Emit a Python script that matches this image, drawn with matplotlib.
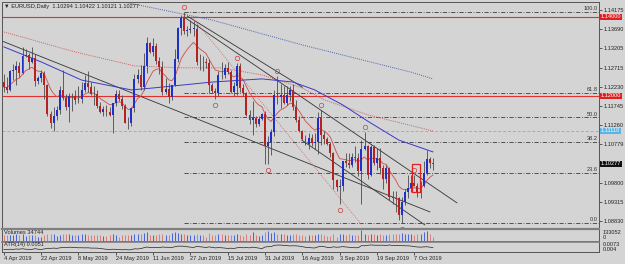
import numpy as np
import pandas as pd
import matplotlib
matplotlib.use("Agg")
import matplotlib.pyplot as plt
import matplotlib.transforms as mtransforms
from matplotlib.patches import Rectangle

# ---------------- data (EURUSD daily) ----------------
opens = [1.1235,1.1222,1.1216,1.1262,1.1265,1.1276,1.1257,1.1300,1.1303,1.1285,1.1296,1.1237,1.1246,1.1258,1.1228,1.1153,1.1131,1.1149,1.1165,
         1.1215,1.1194,1.1171,1.1199,1.1200,1.1190,1.1192,1.1214,1.1233,1.1223,1.1205,1.1204,1.1174,1.1158,1.1166,1.1160,1.1152,1.1181,1.1205,1.1193,1.1174,1.1131,1.1130,
         1.1169,1.1243,1.1252,1.1223,1.1275,1.1333,1.1311,1.1327,1.1288,1.1274,1.1210,1.1218,1.1196,1.1227,1.1293,1.1371,1.1398,1.1365,1.1368,1.1370,
         1.1370,1.1285,1.1287,1.1286,1.1283,1.1227,1.1213,1.1206,1.1253,1.1252,1.1271,1.1260,1.1211,1.1225,1.1276,1.1219,1.1208,1.1151,1.1139,1.1145,1.1128,1.1142,1.1154,
         1.1073,1.1082,1.1108,1.1202,1.1198,1.1201,1.1183,1.1201,1.1215,1.1172,1.1138,1.1111,1.1091,1.1079,1.1094,1.1080,1.1084,1.1143,1.1101,1.1090,1.1077,1.1055,
         1.0986,1.0969,1.0972,1.1034,1.1031,1.1026,1.1044,1.1042,1.1010,1.1065,1.1073,1.1000,1.1070,1.1030,1.1043,1.1016,1.0990,1.1018,1.0943,1.0940,1.0940,
         1.0899,1.0931,1.0957,1.0966,1.0980,1.0972,1.0955,1.0972,1.1004,1.1040,1.10294]
highs = [1.1255,1.1249,1.1266,1.1280,1.1288,1.1286,1.1324,1.1318,1.1308,1.1323,1.1306,1.1250,1.1265,1.1263,1.1230,1.1162,1.1173,1.1175,1.1225,
         1.1265,1.1204,1.1206,1.1207,1.1216,1.1224,1.1234,1.1252,1.1264,1.1236,1.1225,1.1216,1.1184,1.1174,1.1178,1.1172,1.1174,1.1215,1.1214,1.1202,1.1180,1.1147,1.1171,
         1.1255,1.1267,1.1279,1.1309,1.1348,1.1336,1.1347,1.1334,1.1298,1.1289,1.1244,1.1232,1.1228,1.1318,1.1374,1.1405,1.1412,1.1377,1.1393,1.1389,
         1.1381,1.1306,1.1302,1.1296,1.1294,1.1232,1.1220,1.1263,1.1286,1.1280,1.1285,1.1266,1.1236,1.1282,1.1283,1.1229,1.1211,1.1165,1.1188,1.1150,1.1148,1.1157,1.1162,
         1.1098,1.1116,1.1216,1.1250,1.1231,1.1226,1.1225,1.1225,1.1229,1.1189,1.1148,1.1114,1.1100,1.1106,1.1104,1.1107,1.1159,1.1164,1.1111,1.1095,1.1083,1.1058,
         1.0990,1.0989,1.1034,1.1055,1.1054,1.1055,1.1073,1.1054,1.1087,1.1109,1.1075,1.1075,1.1075,1.1068,1.1067,1.1025,1.1025,1.1020,1.0960,1.0959,1.0945,
         1.0943,1.0963,1.0999,1.0999,1.0999,1.0978,1.0985,1.1035,1.1063,1.1046,1.10422]
lows = [1.1211,1.1208,1.1212,1.1241,1.1227,1.1249,1.1255,1.1298,1.1268,1.1282,1.1226,1.1230,1.1235,1.1191,1.1149,1.1118,1.1111,1.1140,1.1153,
        1.1189,1.1163,1.1135,1.1161,1.1179,1.1183,1.1181,1.1209,1.1210,1.1201,1.1177,1.1170,1.1157,1.1150,1.1148,1.1148,1.1107,1.1175,1.1186,1.1167,1.1131,1.1115,1.1124,
        1.1160,1.1232,1.1215,1.1216,1.1258,1.1308,1.1302,1.1281,1.1255,1.1202,1.1204,1.1181,1.1189,1.1225,1.1287,1.1353,1.1357,1.1352,1.1360,1.1352,
        1.1277,1.1265,1.1264,1.1270,1.1207,1.1207,1.1193,1.1200,1.1242,1.1245,1.1256,1.1207,1.1200,1.1201,1.1210,1.1200,1.1150,1.1128,1.1101,1.1120,1.1124,1.1139,1.1028,
        1.1027,1.1050,1.1099,1.1179,1.1169,1.1180,1.1176,1.1187,1.1165,1.1134,1.1108,1.1088,1.1075,1.1065,1.1072,1.1065,1.1052,1.1076,1.1079,1.1075,1.1044,1.0965,
        1.0960,1.0926,1.0960,1.1019,1.1016,1.1019,1.1033,1.0998,1.0927,1.1062,1.0990,1.0996,1.1026,1.1013,1.1003,1.0965,1.0980,1.0936,1.0926,1.0905,1.0885,
        1.0879,1.0924,1.0940,1.0957,1.0971,1.0943,1.0940,1.0970,1.1000,1.1016,1.10121]
closes = [1.1222,1.1215,1.1262,1.1265,1.1275,1.1257,1.1300,1.1304,1.1285,1.1296,1.1237,1.1246,1.1258,1.1228,1.1153,1.1131,1.1149,1.1165,1.1215,
          1.1194,1.1171,1.1199,1.1200,1.1190,1.1192,1.1214,1.1233,1.1223,1.1205,1.1204,1.1174,1.1158,1.1166,1.1160,1.1152,1.1181,1.1205,1.1193,1.1174,1.1131,1.1130,1.1169,
          1.1243,1.1252,1.1223,1.1275,1.1333,1.1311,1.1327,1.1288,1.1274,1.1210,1.1218,1.1196,1.1227,1.1293,1.1371,1.1398,1.1365,1.1368,1.1370,1.1373,
          1.1285,1.1287,1.1286,1.1283,1.1227,1.1213,1.1206,1.1253,1.1252,1.1271,1.1260,1.1211,1.1225,1.1276,1.1219,1.1208,1.1151,1.1139,1.1145,1.1128,1.1142,1.1154,1.1073,
          1.1082,1.1108,1.1202,1.1198,1.1201,1.1183,1.1201,1.1215,1.1172,1.1138,1.1111,1.1091,1.1079,1.1094,1.1080,1.1084,1.1143,1.1101,1.1090,1.1077,1.1055,1.0986,
          1.0969,1.0972,1.1034,1.1031,1.1026,1.1044,1.1042,1.1010,1.1065,1.1073,1.1000,1.1070,1.1030,1.1043,1.1016,1.0990,1.1018,1.0943,1.0940,1.0939,1.0899,
          1.0931,1.0957,1.0966,1.0980,1.0972,1.0955,1.0972,1.1004,1.1040,1.1030,1.10277]
volumes = [62,60,58,61,70,64,72,55,60,66,63,38,45,58,75,72,80,55,68,
           78,70,75,62,66,65,70,72,64,60,66,62,60,50,55,58,80,64,35,60,62,66,63,
           76,70,78,85,95,60,66,68,70,78,62,62,90,95,88,72,74,66,62,64,
           70,62,60,38,82,58,60,78,70,62,58,66,62,72,64,55,70,66,100,65,55,58,95,
           110,88,95,80,75,70,68,60,75,70,66,60,55,58,62,60,70,78,62,56,54,72,
           45,75,78,66,70,62,64,66,120,80,66,70,72,68,70,66,62,80,72,70,72,
           82,74,78,70,65,72,74,96,110,70,34.744]
volumes = [v * 1000 for v in volumes]

dates = pd.bdate_range("2019-04-04", "2019-10-15")
date_tick_dates = ["2019-04-04", "2019-04-22", "2019-05-08", "2019-05-24", "2019-06-11", "2019-06-27",
                   "2019-07-15", "2019-07-31", "2019-08-16", "2019-09-03", "2019-09-19", "2019-10-07"]
date_tick_labels = ["4 Apr 2019", "22 Apr 2019", "8 May 2019", "24 May 2019", "11 Jun 2019", "27 Jun 2019",
                    "15 Jul 2019", "31 Jul 2019", "16 Aug 2019", "3 Sep 2019", "19 Sep 2019", "7 Oct 2019"]

price_ticks = [1.14175, 1.13690, 1.13205, 1.12715, 1.12230, 1.11745, 1.11260, 1.10779, 1.09800, 1.09315, 1.08830]
red_levels = [1.14000, 1.12000]
cyan_level = 1.11110
fib_pcts = [0.0, 23.6, 38.2, 50.0, 61.8, 100.0]

# moving averages (bar index, price)
blue_ma_idx = [0, 12, 25, 41, 48, 67, 83, 93, 100, 109, 117, 127, 138]
blue_ma_val = [1.1324, 1.1286, 1.1240, 1.1215, 1.1220, 1.1235, 1.1243, 1.1235, 1.1215, 1.1177, 1.1136, 1.1088, 1.1058]
red_dot_idx = [0, 23, 42, 57, 70, 83, 96, 103, 117, 138]
red_dot_val = [1.1362, 1.1311, 1.1276, 1.1271, 1.1271, 1.1253, 1.1220, 1.1190, 1.1152, 1.1111]
blue_dot_idx = [36, 67, 96, 131, 138]
blue_dot_val = [1.1442, 1.1392, 1.1329, 1.1260, 1.1243]

# trend lines (bar index pairs, price pairs)
trend_black = [((-0.6, 137.0), (1.1339, 1.0906)),
               ((57.9, 145.7), (1.1400, 1.0929)),
               ((59.0, 96.0), (1.1402, 1.1222)),
               ((95.8, 135.4), (1.1088, 1.0873))]
trend_red_dot = [((60.5, 115.1), (1.1400, 1.0873))]

fractals = [(58, "H"), (68, "L"), (75, "H"), (85, "L"), (88, "H"), (102, "H"),
            (108, "L"), (116, "H"), (128, "L"), (132, "H")]
box_bars = (131.4, 133.8)
box_prices = (1.0957, 1.1027)

# ---------------- figure ----------------
W, H = 625, 264
bg = "#d4d4d4"
plt.rcParams["font.family"] = ["Liberation Sans", "DejaVu Sans"]
fig = plt.figure(figsize=(W / 100, H / 100), dpi=100, facecolor=bg)
FS = 4.1

def axes_px(x0, y0, x1, y1):
    return fig.add_axes([x0 / W, 1 - y1 / H, (x1 - x0) / W, (y1 - y0) / H])

ax = axes_px(2, 2, 599, 228)
axv = axes_px(2, 229, 599, 240.5)
axa = axes_px(2, 241.5, 599, 252)
for a in (ax, axv, axa):
    a.set_facecolor(bg)
    for s in a.spines.values():
        s.set_color("#555555")
        s.set_linewidth(0.7)
axv.spines["top"].set_linewidth(1.6)
axv.spines["top"].set_color("#808080")
axa.spines["top"].set_linewidth(1.2)
axa.spines["top"].set_color("#808080")

o = np.array(opens); h = np.array(highs); l = np.array(lows); c = np.array(closes)
n = len(c)
x = np.arange(n)
xlim = (-0.6, 191.4)
ylim = (1.08652, 1.14378)

# horizontal levels
for lv in red_levels:
    ax.axhline(lv, color="#e03030", lw=0.8, zorder=1)
ax.axhline(cyan_level, color="#7fb8d8", lw=0.7, ls=(0, (3, 2)), zorder=1)

# fibonacci
hi_i = int(np.argmax(h)); fhi = h.max(); flo = l.min()
ytr = mtransforms.blended_transform_factory(ax.transAxes, ax.transData)
for p in fib_pcts:
    lv = flo + p / 100 * (fhi - flo)
    ax.plot([hi_i, xlim[1]], [lv, lv], color="#3a3a3a", lw=0.6, ls=(0, (5, 2, 1, 2)), zorder=1)
    ax.text(0.998, lv + 0.0002, f"{p:.1f}", transform=ytr,
            ha="right", va="bottom", fontsize=FS, color="#333333")

# moving averages
ema = pd.Series(c).ewm(span=10, adjust=False).mean()
ax.plot(x, ema, color="#d24a4a", lw=0.6, zorder=3)
ax.plot(blue_ma_idx, blue_ma_val, color="#3a3ac8", lw=0.7, zorder=3)
ax.plot(red_dot_idx, red_dot_val, color="#c86060", lw=0.7, ls=(0, (1, 1.2)), zorder=2)
ax.plot(blue_dot_idx, blue_dot_val, color="#5060a8", lw=0.7, ls=(0, (1, 1.2)), zorder=2)

for xs, ys in trend_black:
    ax.plot(xs, ys, color="#333333", lw=0.6, zorder=2)
for xs, ys in trend_red_dot:
    ax.plot(xs, ys, color="#d06060", lw=0.6, ls=(0, (1, 1.5)), zorder=2)

# candles
up = c >= o
ax.vlines(x, l, h, color="#4a4a4a", lw=0.6, zorder=4)
body = np.maximum(np.abs(c - o), 0.00008)
ax.bar(x[up], body[up], bottom=o[up], width=0.62, color="#1f30c8", lw=0, zorder=5)
ax.bar(x[~up], body[~up], bottom=c[~up], width=0.62, color="#b42222", lw=0, zorder=5)

# fractal markers
offs = mtransforms.offset_copy
for bi, kind in fractals:
    if kind == "H":
        tr = offs(ax.transData, fig=fig, y=5, units="dots")
        ax.plot([bi], [h[bi]], "o", ms=3.2, mfc="none", mec="#d04040", mew=0.5, transform=tr, zorder=6)
    else:
        tr = offs(ax.transData, fig=fig, y=-6, units="dots")
        ax.plot([bi], [l[bi]], "o", ms=3.2, mfc="none", mec="#d04040", mew=0.5, transform=tr, zorder=6)

ax.add_patch(Rectangle((box_bars[0], box_prices[0]), box_bars[1] - box_bars[0], box_prices[1] - box_prices[0],
                       fill=False, ec="#e02020", lw=0.9, zorder=7))

ax.set_xlim(*xlim)
ax.set_ylim(*ylim)
ax.set_xticks([])
ax.yaxis.tick_right()
ax.set_yticks(price_ticks)
ax.set_yticklabels([f"{p:.5f}" for p in price_ticks])
ax.tick_params(axis="y", labelsize=FS, length=2, width=0.5, pad=1, colors="#222222")

for lv in red_levels:
    ax.text(1.0035, lv, f"{lv:.5f}", transform=ytr, fontsize=FS, color="white", va="center", ha="left",
            bbox=dict(boxstyle="square,pad=0.15", fc="#e02020", ec="none"), clip_on=False, zorder=10)
ax.text(1.0035, cyan_level, f"{cyan_level:.5f}", transform=ytr, fontsize=FS, color="white", va="center", ha="left",
        bbox=dict(boxstyle="square,pad=0.15", fc="#5ab4e6", ec="none"), clip_on=False, zorder=10)
ax.text(1.0035, c[-1], f"{c[-1]:.5f}", transform=ytr, fontsize=FS, color="white", va="center", ha="left",
        bbox=dict(boxstyle="square,pad=0.15", fc="#111111", ec="none"), clip_on=False, zorder=10)

ax.text(0.004, 0.992, "\u25bc EURUSD,Daily  %.5f %.5f %.5f %.5f" % (o[-1], h[-1], l[-1], c[-1]),
        transform=ax.transAxes, fontsize=FS, va="top", ha="left", color="#222222")

# volumes
vcol = np.where(up, "#4a5ee0", "#e07a7a")
axv.vlines(x, 0, volumes, colors=vcol, lw=0.7)
axv.set_xlim(*xlim)
axv.set_ylim(0, 133052)
axv.set_xticks([]); axv.set_yticks([])
axv.text(0.003, 0.93, "Volumes %d" % round(volumes[-1]), transform=axv.transAxes, fontsize=FS, va="top", ha="left", color="#222222")
axv.text(1.006, 0.72, "133052", transform=axv.transAxes, fontsize=FS, va="center", ha="left", color="#222222", clip_on=False)
axv.text(1.006, 0.25, "0", transform=axv.transAxes, fontsize=FS, va="center", ha="left", color="#222222", clip_on=False)

# ATR
prev_c = np.concatenate([[c[0]], c[:-1]])
tr_ = np.maximum.reduce([h - l, np.abs(h - prev_c), np.abs(l - prev_c)])
atr = pd.Series(tr_).ewm(alpha=1 / 14, adjust=False).mean()
axa.plot(x, atr, color="#222222", lw=0.5)
axa.set_xlim(*xlim)
axa.set_ylim(0.0034, 0.0074)
axa.set_yticks([])
axa.text(0.003, 0.95, "ATR(14) %.4f" % atr.iloc[-1], transform=axa.transAxes, fontsize=FS, va="top", ha="left", color="#222222")
axa.text(1.006, 0.68, "0.0073", transform=axa.transAxes, fontsize=FS, va="center", ha="left", color="#222222", clip_on=False)
axa.text(1.006, 0.25, "0.004", transform=axa.transAxes, fontsize=FS, va="center", ha="left", color="#222222", clip_on=False)

tick_idx = [dates.get_loc(pd.Timestamp(d)) for d in date_tick_dates]
axa.set_xticks(tick_idx)
axa.set_xticklabels(date_tick_labels, ha="left")
axa.tick_params(axis="x", labelsize=FS, length=2, width=0.5, pad=1, colors="#222222")

fig.savefig("out.png", dpi=100, facecolor=bg)
